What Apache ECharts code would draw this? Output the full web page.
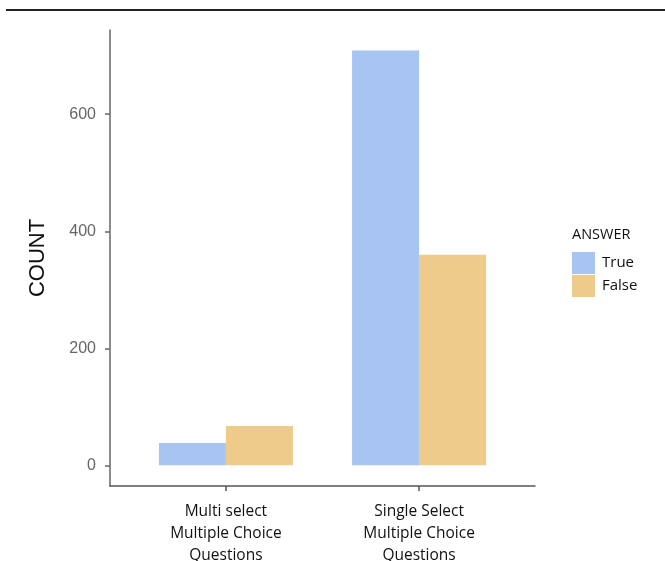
<!DOCTYPE html>
<html>
<head>
<meta charset="utf-8">
<script src="https://cdn.jsdelivr.net/npm/echarts@6/dist/echarts.min.js"></script>
<style>html,body{margin:0;padding:0;background:#fff}#c{width:665px;height:561px}</style>
</head>
<body>
<div id="c"></div>
<script>
const categories = ['Multi select\nMultiple Choice\nQuestions', 'Single Select\nMultiple Choice\nQuestions'];
const categoryPos = [1, 2];
const seriesNames = ['True', 'False'];
const trueValues = [38, 709];
const falseValues = [67, 360];
const yTicks = [0, 200, 400, 600];

const chart = echarts.init(document.getElementById('c'));
const pair = (vals) => vals.map((v, i) => [categoryPos[i], v]);
chart.setOption({
  animation: false,
  backgroundColor: '#fff',
  grid: { left: 110, width: 425, top: 30, height: 456, containLabel: false, outerBoundsMode: 'none' },
  legend: {
    orient: 'vertical', left: 567, top: 247,
    itemWidth: 23, itemHeight: 22, itemGap: 1,
    icon: 'rect',
    data: seriesNames,
    textStyle: { fontFamily: 'Open Sans', fontSize: 15, color: '#111', padding: [2, 0, 0, 2] }
  },
  graphic: [
    { type: 'line', shape: { x1: 6, y1: 10, x2: 665, y2: 10 }, style: { stroke: '#222', lineWidth: 2 } },
    { type: 'text', left: 572, top: 227, style: { text: 'ANSWER', font: '14.5px "Open Sans"', fill: '#111' } }
  ],
  xAxis: {
    type: 'value', min: 0.4, max: 2.6,
    splitLine: { show: false },
    axisLine: { show: true, onZero: false, lineStyle: { color: '#555', width: 1.5 } },
    axisTick: { show: true, length: 5, customValues: categoryPos, lineStyle: { color: '#555', width: 1.5 } },
    axisLabel: {
      customValues: categoryPos,
      margin: 15,
      formatter: (v) => categories[Math.round(v) - 1] || '',
      fontFamily: 'Open Sans', fontSize: 15.5, lineHeight: 22, color: '#111'
    }
  },
  yAxis: {
    type: 'value', min: -35.4, max: 744,
    name: 'COUNT', nameLocation: 'middle', nameGap: 61,
    nameTextStyle: { fontFamily: 'Liberation Sans', fontSize: 22, color: '#111' },
    splitLine: { show: false },
    axisLine: { show: true, onZero: false, lineStyle: { color: '#666', width: 1.5 } },
    axisTick: { show: true, length: 5, customValues: yTicks, lineStyle: { color: '#666', width: 1.5 } },
    axisLabel: { customValues: yTicks, margin: 14, fontFamily: 'Liberation Sans', fontSize: 16, color: '#666' }
  },
  series: [
    { name: seriesNames[0], type: 'bar', data: pair(trueValues), barWidth: 67, barGap: '0%', itemStyle: { color: '#A7C4F2' } },
    { name: seriesNames[1], type: 'bar', data: pair(falseValues), barWidth: 67, barGap: '0%', itemStyle: { color: '#EECB8A' } }
  ]
});
</script>
</body>
</html>
